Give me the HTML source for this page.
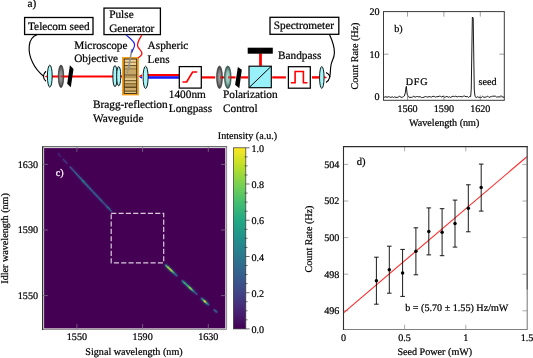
<!DOCTYPE html>
<html lang="en"><head><meta charset="utf-8"><title>Figure</title>
<style>html,body{margin:0;padding:0;background:#fff}svg{display:block}</style></head>
<body>
<svg width="533" height="358" viewBox="0 0 533 358" text-rendering="geometricPrecision" font-family='"Liberation Serif", "DejaVu Serif", serif'>
<defs>
<linearGradient id="vir" x1="0" y1="0" x2="0" y2="1"><stop offset="0.0" stop-color="#fde725"/><stop offset="0.1" stop-color="#bddf26"/><stop offset="0.2" stop-color="#7ad151"/><stop offset="0.3" stop-color="#44bf70"/><stop offset="0.4" stop-color="#22a884"/><stop offset="0.5" stop-color="#21918c"/><stop offset="0.6" stop-color="#2a788e"/><stop offset="0.7" stop-color="#355f8d"/><stop offset="0.8" stop-color="#414487"/><stop offset="0.9" stop-color="#482475"/><stop offset="1.0" stop-color="#440154"/></linearGradient>
<filter id="blr" x="-5%" y="-5%" width="110%" height="110%"><feGaussianBlur stdDeviation="0.5"/></filter>
<radialGradient id="gl" cx="0.5" cy="0.5" r="0.5"><stop offset="0" stop-color="#a0a0a0"/><stop offset="0.5" stop-color="#848484"/><stop offset="1" stop-color="#3c3c3c"/></radialGradient>
<radialGradient id="tl" cx="0.5" cy="0.5" r="0.5"><stop offset="0" stop-color="#aee0d2"/><stop offset="0.5" stop-color="#90c0b4"/><stop offset="1" stop-color="#30504a"/></radialGradient>
<filter id="blh" x="-5%" y="-5%" width="110%" height="110%"><feGaussianBlur stdDeviation="0.8"/></filter>
<filter id="blw" x="-5%" y="-5%" width="110%" height="110%"><feGaussianBlur stdDeviation="0 0.35"/></filter>
</defs>
<rect width="533" height="358" fill="#fff"/>
<g opacity="0.999">
<text x="27.6" y="7.2" font-size="11.3" text-anchor="start" fill="#000" stroke="#000" stroke-width="0.22" >a)</text>
<g fill="#fff" stroke="#000" stroke-width="1.3">
<rect x="24.6" y="17.5" width="68.4" height="17"/>
<rect x="104" y="8.1" width="56.4" height="26.5"/>
<rect x="270" y="17.3" width="68.8" height="17"/>
</g>
<text x="28.0" y="29.5" font-size="11.3" text-anchor="start" fill="#000" stroke="#000" stroke-width="0.22" >Telecom seed</text>
<text x="109.2" y="17.8" font-size="11.3" text-anchor="start" fill="#000" stroke="#000" stroke-width="0.22" >Pulse</text>
<text x="109.2" y="32.0" font-size="11.3" text-anchor="start" fill="#000" stroke="#000" stroke-width="0.22" >Generator</text>
<text x="273.8" y="29.0" font-size="11.3" text-anchor="start" fill="#000" stroke="#000" stroke-width="0.22" >Spectrometer</text>
<text x="74.2" y="48.6" font-size="11.3" text-anchor="start" fill="#000" stroke="#000" stroke-width="0.22" >Microscope</text>
<text x="74.2" y="62.1" font-size="11.3" text-anchor="start" fill="#000" stroke="#000" stroke-width="0.22" >Objective</text>
<text x="147.6" y="49.3" font-size="11.3" text-anchor="start" fill="#000" stroke="#000" stroke-width="0.22" >Aspheric</text>
<text x="147.6" y="63.2" font-size="11.3" text-anchor="start" fill="#000" stroke="#000" stroke-width="0.22" >Lens</text>
<text x="93.0" y="107.6" font-size="11.3" text-anchor="start" fill="#000" stroke="#000" stroke-width="0.22" >Bragg-reflection</text>
<text x="93.0" y="121.8" font-size="11.3" text-anchor="start" fill="#000" stroke="#000" stroke-width="0.22" >Waveguide</text>
<text x="168.8" y="97.6" font-size="11.3" text-anchor="start" fill="#000" stroke="#000" stroke-width="0.22" >1400nm</text>
<text x="168.8" y="111.6" font-size="11.3" text-anchor="start" fill="#000" stroke="#000" stroke-width="0.22" >Longpass</text>
<text x="223.0" y="97.6" font-size="11.3" text-anchor="start" fill="#000" stroke="#000" stroke-width="0.22" >Polarization</text>
<text x="223.0" y="111.6" font-size="11.3" text-anchor="start" fill="#000" stroke="#000" stroke-width="0.22" >Control</text>
<text x="278.0" y="59.3" font-size="11.3" text-anchor="start" fill="#000" stroke="#000" stroke-width="0.22" >Bandpass</text>
<g fill="none" stroke="#000" stroke-width="1.15">
<path d="M37 34.8 C27.4 38 27.4 52 32.6 62.6 C35 67.6 38.6 72.4 43.6 76.2"/>
<path d="M46 71.2 C42.6 74.2 42.6 78.4 46 81.2"/>
<path d="M329.6 34.8 C332 40 334.6 47 334.4 53 C334.2 59 331.8 60 331 65 C330.2 70 330.6 74 329.6 77.2"/>
<path d="M326 72.6 C329.4 74.6 330.4 76.4 329.6 77.6 C329 79.8 328 81.4 326 82.6"/>
</g>
<polygon points="44.6,76.4 47.0,75.4 122.4,75.4 122.4,77.4 47.0,77.4" fill="#ff0000"/>
<polygon points="138.2,76.4 142.0,76.4 142.0,78.7" fill="#1414ff"/>
<polygon points="138.2,76.4 142.0,74.2 142.0,76.4" fill="#ff0000"/>
<rect x="147.4" y="74.0" width="31.6" height="2.3" fill="#ff0000"/>
<rect x="147.4" y="76.25" width="31.6" height="2.5" fill="#1414ff"/>
<rect x="201.8" y="76.30000000000001" width="13.399999999999977" height="2.2" fill="#ff0000"/>
<rect x="220.0" y="76.30000000000001" width="4.199999999999989" height="2.2" fill="#ff0000"/>
<rect x="228.0" y="76.30000000000001" width="7.599999999999994" height="2.2" fill="#ff0000"/>
<rect x="241.0" y="76.30000000000001" width="7.199999999999989" height="2.2" fill="#ff0000"/>
<rect x="272.2" y="76.30000000000001" width="13.699999999999989" height="2.2" fill="#ff0000"/>
<rect x="312.0" y="76.2" width="7.600000000000023" height="2.4" fill="#ff0000"/>
<polygon points="324.2,76.2 326.6,76.9 326.6,77.9 324.2,78.60000000000001" fill="#ff0000"/>
<rect x="259.1" y="53.4" width="2.8" height="12.4" fill="#ff0000"/>
<ellipse cx="49.8" cy="76.15" rx="2.4" ry="11.050000000000004" fill="#a6f6f8" stroke="#000" stroke-width="0.9" fill-opacity="1"/>
<ellipse cx="61.0" cy="76.3" rx="2.75" ry="11.299999999999997" fill="url(#gl)" stroke="#333" stroke-width="0.7" fill-opacity="1"/>
<rect x="60.6" y="75.4" width="3.2" height="2.0" fill="#c01818" fill-opacity="0.75"/>
<polygon points="69.9,65.3 73.5,68.9 70.8,87.3 67.2,83.7" fill="#000"/>
<rect x="112.9" y="65.6" width="4.2" height="21.1" rx="2.1" ry="9" fill="#a6f6f8" stroke="#000" stroke-width="0.9"/>
<rect x="116.7" y="66.6" width="4.0" height="19.2" rx="2.0" ry="8.2" fill="#a6f6f8" stroke="#000" stroke-width="0.9"/>
<rect x="122.9" y="57.9" width="15.1" height="36.6" fill="#c9a868" stroke="#f5a11f" stroke-width="1.8"/>
<g filter="url(#blw)">
<rect x="124.4" y="59.4" width="12.2" height="2.4" fill="#f0d69a"/>
<rect x="124.4" y="61.8" width="12.2" height="0.9" fill="#7a6030"/>
<rect x="124.4" y="62.7" width="12.2" height="2.4" fill="#ecd092"/>
<rect x="124.4" y="65.1" width="12.2" height="1.1" fill="#5e4a22"/>
<rect x="124.4" y="66.2" width="12.2" height="2.4" fill="#d2b272"/>
<rect x="124.4" y="68.6" width="12.2" height="0.9" fill="#6a5426"/>
<rect x="124.4" y="69.5" width="12.2" height="5.1" fill="#c8a866"/>
<rect x="124.4" y="74.6" width="12.2" height="1.0" fill="#4e3c18"/>
<rect x="124.4" y="75.6" width="12.2" height="2.6" fill="#b8985a"/>
<rect x="124.4" y="78.2" width="12.2" height="2.0" fill="#e6ca8c"/>
<rect x="124.4" y="80.2" width="12.2" height="1.2" fill="#66501f"/>
<rect x="124.4" y="81.4" width="12.2" height="1.9" fill="#dcc07e"/>
<rect x="124.4" y="83.3" width="12.2" height="1.2" fill="#6e5622"/>
<rect x="124.4" y="84.5" width="12.2" height="2.0" fill="#bc9c5c"/>
<rect x="124.4" y="86.5" width="12.2" height="1.5" fill="#66501f"/>
<rect x="124.4" y="88.0" width="12.2" height="2.6" fill="#ccac6a"/>
<rect x="124.4" y="90.6" width="12.2" height="1.2" fill="#66501f"/>
<rect x="124.4" y="91.8" width="12.2" height="1.6" fill="#e2c688"/>
</g>
<rect x="124.2" y="59.0" width="12.5" height="34.5" fill="none" stroke="#2e220e" stroke-width="0.85"/>
<polygon points="131.1,49 132.7,49.2 129.7,66.6 127.3,75.4 126.8,75.1 128.1,66.4" fill="#929292"/>
<path d="M126.2 34.8 C129 38 134.8 41 134.6 45 C134.4 48.6 132.2 49.6 131.7 52.6" stroke="#2222f0" stroke-width="1.2" fill="none"/>
<path d="M141.9 34.8 C140 38.6 137 42 137.6 45.8 C138.2 49.4 142.6 50.4 141.9 54 C141.5 55.8 139.6 56.8 138.1 57.8" stroke="#ff0000" stroke-width="1.2" fill="none"/>
<ellipse cx="145.6" cy="77.35" rx="2.5" ry="11.149999999999999" fill="#a6f6f8" stroke="#000" stroke-width="0.9" fill-opacity="1"/>
<rect x="179.3" y="66.6" width="22" height="21.5" fill="#fff" stroke="#000" stroke-width="1.25"/>
<path d="M183.0 82.0 H186.6 L192.6 72.0 H196.6" stroke="#ff0000" stroke-width="1.6" stroke-linecap="round" stroke-linejoin="round" fill="none"/>
<ellipse cx="219.5" cy="77.3" rx="2.9" ry="11.299999999999997" fill="url(#gl)" stroke="#333" stroke-width="0.7" fill-opacity="1"/>
<ellipse cx="227.8" cy="77.3" rx="3.3" ry="11.299999999999997" fill="url(#tl)" stroke="#2c4642" stroke-width="0.7" fill-opacity="1"/>
<rect x="220.0" y="76.30000000000001" width="2.4" height="2.2" fill="#c01818" fill-opacity="0.8"/>
<rect x="228.0" y="76.30000000000001" width="3.0" height="2.2" fill="#d82020" fill-opacity="0.8"/>
<polygon points="237.9,66.9 241.8,69.7 239.3,88.2 235.1,84.8" fill="#000"/>
<rect x="247.7" y="47.7" width="25.1" height="6" fill="#000"/>
<rect x="249.0" y="66.2" width="22.3" height="21.5" fill="#98f0f8" stroke="#000" stroke-width="1.15"/>
<path d="M249.2 87.5 L271.1 66.4" stroke="#000" stroke-width="1" fill="none"/>
<rect x="288.4" y="66.7" width="21.9" height="21.5" fill="#fff" stroke="#000" stroke-width="1.25"/>
<path d="M290.8 82.7 H295.1 V71.5 H303.4 V82.7 H307.4" stroke="#ff0000" stroke-width="1.6" stroke-linejoin="miter" fill="none"/>
<ellipse cx="321.8" cy="77.45" rx="2.25" ry="10.950000000000003" fill="#a6f6f8" stroke="#000" stroke-width="0.9" fill-opacity="1"/>
<path d="M383.23 97.03 L384.51 97.31 L385.78 96.50 L387.06 97.44 L388.33 96.68 L389.60 96.96 L390.88 97.46 L392.15 96.73 L393.43 97.50 L394.70 96.85 L395.97 97.44 L397.25 97.41 L398.52 96.87 L399.80 96.21 L401.07 97.36 L402.34 97.19 L403.62 96.54 L404.35 96.02 L405.32 92.77 L406.04 87.28 L406.35 86.34 L407.14 94.06 L407.99 96.16 L408.71 97.09 L409.99 97.32 L411.26 97.36 L412.54 97.05 L413.81 96.23 L415.08 97.26 L416.36 96.61 L417.63 96.52 L418.91 96.95 L420.18 96.67 L421.45 97.45 L422.73 97.46 L424.00 97.22 L425.27 96.45 L426.55 96.86 L427.82 97.05 L429.10 96.60 L430.37 96.82 L431.64 97.07 L432.92 96.26 L434.19 96.42 L435.47 97.16 L436.74 96.62 L438.01 96.70 L439.29 96.13 L440.56 96.37 L441.84 97.09 L443.11 95.96 L444.38 97.36 L445.66 96.88 L446.93 96.32 L448.21 97.31 L449.48 96.76 L450.75 97.49 L452.03 96.47 L453.30 96.31 L454.58 96.62 L455.85 96.13 L457.12 97.05 L458.40 96.43 L459.67 96.59 L460.95 96.61 L462.22 96.81 L463.49 96.19 L464.77 96.02 L466.04 96.79 L467.32 96.48 L468.59 97.46 L469.86 96.42 L470.65 96.50 L471.26 89.09 L472.35 17.04 L473.18 17.91 L474.29 90.08 L475.02 96.47 L476.23 97.52 L477.51 96.81 L478.78 97.28 L480.06 97.37 L481.33 97.46 L482.60 96.31 L483.88 97.35 L485.15 97.15 L486.43 96.92 L487.70 96.14 L488.97 97.43 L490.25 96.83 L491.52 96.66 L492.79 96.12 L494.07 96.22 L495.34 96.15 L496.62 97.10 L497.89 96.88 L499.16 96.97 L500.44 96.12 L501.71 96.00 L502.99 97.31 L504.26 97.27" fill="none" stroke="#000" stroke-width="0.9" stroke-linejoin="round"/>
<g stroke="#777" stroke-width="0.7">
<path d="M407.5 11.6 v5 M407.5 100.3 v-5"/>
<path d="M443.9 11.6 v5 M443.9 100.3 v-5"/>
<path d="M480.3 11.6 v5 M480.3 100.3 v-5"/>
<path d="M383.5 97.0 h5 M504.3 97.0 h-5"/>
<path d="M383.5 54.2 h5 M504.3 54.2 h-5"/>
</g>
<rect x="383.5" y="11.6" width="120.80000000000001" height="88.7" fill="none" stroke="#3a3a3a" stroke-width="1"/>
<text x="407.5" y="111.6" font-size="10.15" text-anchor="middle" fill="#000" stroke="#000" stroke-width="0.22" >1560</text>
<text x="443.9" y="111.6" font-size="10.15" text-anchor="middle" fill="#000" stroke="#000" stroke-width="0.22" >1590</text>
<text x="480.3" y="111.6" font-size="10.15" text-anchor="middle" fill="#000" stroke="#000" stroke-width="0.22" >1620</text>
<text x="379.6" y="100.4" font-size="10.15" text-anchor="end" fill="#000" stroke="#000" stroke-width="0.22" >0</text>
<text x="379.6" y="57.6" font-size="10.15" text-anchor="end" fill="#000" stroke="#000" stroke-width="0.22" >10</text>
<text x="379.6" y="14.8" font-size="10.15" text-anchor="end" fill="#000" stroke="#000" stroke-width="0.22" >20</text>
<text x="444.2" y="126.0" font-size="10.15" text-anchor="middle" fill="#000" stroke="#000" stroke-width="0.22" >Wavelength (nm)</text>
<text transform="translate(358.0,56) rotate(-90)" font-size="10.15" text-anchor="middle" fill="#000" stroke="#000" stroke-width="0.22">Count Rate (Hz)</text>
<text x="394.2" y="32.2" font-size="10.15" text-anchor="start" fill="#000" stroke="#000" stroke-width="0.22" >b)</text>
<text x="405.8" y="84.7" font-size="10.15" text-anchor="start" fill="#000" stroke="#000" stroke-width="0.22" letter-spacing="0.75">DFG</text>
<text x="478.6" y="84.6" font-size="10.15" text-anchor="start" fill="#000" stroke="#000" stroke-width="0.22" >seed</text>
<rect x="44.1" y="148.1" width="181.2" height="180.3" fill="#440154"/>
<g stroke-linecap="butt" fill="none" filter="url(#blh)">
<path d="M57.18 152.42 L57.78 153.09" stroke="#450a5c" stroke-width="2.61" stroke-opacity="0.30"/>
<path d="M57.68 152.98 L58.27 153.64" stroke="#47186a" stroke-width="2.63" stroke-opacity="0.38"/>
<path d="M58.17 153.53 L58.76 154.20" stroke="#47196a" stroke-width="2.63" stroke-opacity="0.39"/>
<path d="M58.66 154.09 L59.25 154.76" stroke="#471a6c" stroke-width="2.63" stroke-opacity="0.39"/>
<path d="M59.16 154.65 L59.75 155.31" stroke="#471a6c" stroke-width="2.63" stroke-opacity="0.39"/>
<path d="M59.65 155.20 L60.24 155.87" stroke="#471769" stroke-width="2.63" stroke-opacity="0.38"/>
<path d="M60.14 155.76 L60.73 156.42" stroke="#461668" stroke-width="2.62" stroke-opacity="0.37"/>
<path d="M60.63 156.31 L61.23 156.98" stroke="#461768" stroke-width="2.62" stroke-opacity="0.37"/>
<path d="M62.61 158.53 L63.20 159.19" stroke="#461566" stroke-width="2.62" stroke-opacity="0.36"/>
<path d="M63.10 159.08 L63.69 159.74" stroke="#471f70" stroke-width="2.63" stroke-opacity="0.42"/>
<path d="M63.59 159.63 L64.18 160.29" stroke="#482676" stroke-width="2.64" stroke-opacity="0.46"/>
<path d="M64.08 160.18 L64.68 160.84" stroke="#482273" stroke-width="2.64" stroke-opacity="0.44"/>
<path d="M64.58 160.73 L65.17 161.39" stroke="#482575" stroke-width="2.64" stroke-opacity="0.46"/>
<path d="M65.07 161.28 L65.66 161.94" stroke="#482273" stroke-width="2.64" stroke-opacity="0.44"/>
<path d="M65.56 161.83 L66.15 162.49" stroke="#482374" stroke-width="2.64" stroke-opacity="0.45"/>
<path d="M66.06 162.38 L66.65 163.04" stroke="#471f71" stroke-width="2.63" stroke-opacity="0.42"/>
<path d="M66.55 162.93 L67.14 163.59" stroke="#482273" stroke-width="2.64" stroke-opacity="0.44"/>
<path d="M67.04 163.48 L67.63 164.14" stroke="#471869" stroke-width="2.63" stroke-opacity="0.38"/>
<path d="M69.51 166.22 L70.10 166.87" stroke="#471f70" stroke-width="2.63" stroke-opacity="0.42"/>
<path d="M70.00 166.77 L70.59 167.42" stroke="#45317c" stroke-width="2.66" stroke-opacity="0.53"/>
<path d="M70.49 167.31 L71.08 167.97" stroke="#45327d" stroke-width="2.66" stroke-opacity="0.54"/>
<path d="M70.99 167.86 L71.58 168.51" stroke="#462c79" stroke-width="2.65" stroke-opacity="0.50"/>
<path d="M71.48 168.40 L72.07 169.06" stroke="#45347e" stroke-width="2.66" stroke-opacity="0.55"/>
<path d="M71.97 168.95 L72.56 169.60" stroke="#45327d" stroke-width="2.66" stroke-opacity="0.54"/>
<path d="M72.46 169.49 L73.06 170.14" stroke="#462f7b" stroke-width="2.65" stroke-opacity="0.52"/>
<path d="M72.96 170.03 L73.55 170.69" stroke="#462d7a" stroke-width="2.65" stroke-opacity="0.50"/>
<path d="M73.45 170.58 L74.04 171.23" stroke="#44367f" stroke-width="2.66" stroke-opacity="0.56"/>
<path d="M73.94 171.12 L74.53 171.77" stroke="#45327d" stroke-width="2.66" stroke-opacity="0.54"/>
<path d="M74.44 171.66 L75.03 172.31" stroke="#44367f" stroke-width="2.66" stroke-opacity="0.56"/>
<path d="M74.93 172.20 L75.52 172.85" stroke="#443880" stroke-width="2.67" stroke-opacity="0.58"/>
<path d="M75.42 172.75 L76.01 173.40" stroke="#443780" stroke-width="2.66" stroke-opacity="0.57"/>
<path d="M75.91 173.29 L76.51 173.94" stroke="#433a81" stroke-width="2.67" stroke-opacity="0.59"/>
<path d="M76.41 173.83 L77.00 174.48" stroke="#44357e" stroke-width="2.66" stroke-opacity="0.55"/>
<path d="M76.90 174.37 L77.49 175.02" stroke="#433a82" stroke-width="2.67" stroke-opacity="0.59"/>
<path d="M77.39 174.91 L77.98 175.56" stroke="#443780" stroke-width="2.66" stroke-opacity="0.57"/>
<path d="M77.89 175.45 L78.48 176.09" stroke="#423e84" stroke-width="2.67" stroke-opacity="0.61"/>
<path d="M78.38 175.99 L78.97 176.63" stroke="#423e84" stroke-width="2.67" stroke-opacity="0.61"/>
<path d="M78.87 176.53 L79.46 177.17" stroke="#44357e" stroke-width="2.66" stroke-opacity="0.55"/>
<path d="M79.36 177.06 L79.96 177.71" stroke="#44367f" stroke-width="2.66" stroke-opacity="0.56"/>
<path d="M79.86 177.60 L80.45 178.25" stroke="#443880" stroke-width="2.66" stroke-opacity="0.57"/>
<path d="M80.35 178.14 L80.94 178.78" stroke="#414386" stroke-width="2.68" stroke-opacity="0.64"/>
<path d="M80.84 178.68 L81.43 179.32" stroke="#433c83" stroke-width="2.67" stroke-opacity="0.60"/>
<path d="M81.34 179.21 L81.93 179.85" stroke="#423f84" stroke-width="2.67" stroke-opacity="0.62"/>
<path d="M81.83 179.75 L82.42 180.39" stroke="#423d83" stroke-width="2.67" stroke-opacity="0.61"/>
<path d="M82.32 180.28 L82.91 180.93" stroke="#3f4988" stroke-width="2.69" stroke-opacity="0.69"/>
<path d="M82.81 180.82 L83.41 181.46" stroke="#39568b" stroke-width="2.71" stroke-opacity="0.75"/>
<path d="M83.31 181.35 L83.90 181.99" stroke="#39558b" stroke-width="2.71" stroke-opacity="0.75"/>
<path d="M83.80 181.89 L84.39 182.53" stroke="#3e4b89" stroke-width="2.69" stroke-opacity="0.70"/>
<path d="M84.29 182.42 L84.88 183.06" stroke="#414386" stroke-width="2.68" stroke-opacity="0.64"/>
<path d="M84.79 182.95 L85.38 183.59" stroke="#414587" stroke-width="2.68" stroke-opacity="0.66"/>
<path d="M85.28 183.49 L85.87 184.13" stroke="#424286" stroke-width="2.68" stroke-opacity="0.64"/>
<path d="M85.77 184.02 L86.36 184.66" stroke="#414587" stroke-width="2.68" stroke-opacity="0.66"/>
<path d="M86.27 184.55 L86.86 185.19" stroke="#414387" stroke-width="2.68" stroke-opacity="0.65"/>
<path d="M86.76 185.08 L87.35 185.72" stroke="#414587" stroke-width="2.68" stroke-opacity="0.66"/>
<path d="M87.25 185.62 L87.84 186.25" stroke="#424085" stroke-width="2.67" stroke-opacity="0.62"/>
<path d="M87.74 186.15 L88.34 186.78" stroke="#443881" stroke-width="2.67" stroke-opacity="0.58"/>
<path d="M88.24 186.68 L88.83 187.31" stroke="#424186" stroke-width="2.68" stroke-opacity="0.63"/>
<path d="M88.73 187.21 L89.32 187.84" stroke="#414286" stroke-width="2.68" stroke-opacity="0.64"/>
<path d="M89.22 187.74 L89.81 188.37" stroke="#424185" stroke-width="2.68" stroke-opacity="0.63"/>
<path d="M89.72 188.27 L90.31 188.90" stroke="#433c83" stroke-width="2.67" stroke-opacity="0.60"/>
<path d="M90.21 188.80 L90.80 189.43" stroke="#423d83" stroke-width="2.67" stroke-opacity="0.61"/>
<path d="M90.70 189.32 L91.29 189.96" stroke="#44377f" stroke-width="2.66" stroke-opacity="0.57"/>
<path d="M91.19 189.85 L91.79 190.49" stroke="#423e84" stroke-width="2.67" stroke-opacity="0.61"/>
<path d="M91.69 190.38 L92.28 191.01" stroke="#433b82" stroke-width="2.67" stroke-opacity="0.59"/>
<path d="M92.18 190.91 L92.77 191.54" stroke="#443780" stroke-width="2.66" stroke-opacity="0.57"/>
<path d="M92.67 191.43 L93.26 192.07" stroke="#45347e" stroke-width="2.66" stroke-opacity="0.55"/>
<path d="M93.17 191.96 L93.76 192.59" stroke="#423e84" stroke-width="2.67" stroke-opacity="0.61"/>
<path d="M93.66 192.49 L94.25 193.12" stroke="#424085" stroke-width="2.67" stroke-opacity="0.62"/>
<path d="M94.15 193.01 L94.74 193.64" stroke="#44347e" stroke-width="2.66" stroke-opacity="0.55"/>
<path d="M94.64 193.54 L95.24 194.17" stroke="#423d83" stroke-width="2.67" stroke-opacity="0.61"/>
<path d="M95.14 194.06 L95.73 194.69" stroke="#443981" stroke-width="2.67" stroke-opacity="0.58"/>
<path d="M95.63 194.59 L96.22 195.21" stroke="#44357f" stroke-width="2.66" stroke-opacity="0.56"/>
<path d="M96.12 195.11 L96.71 195.74" stroke="#443780" stroke-width="2.66" stroke-opacity="0.57"/>
<path d="M96.62 195.63 L97.21 196.26" stroke="#423d83" stroke-width="2.67" stroke-opacity="0.61"/>
<path d="M97.11 196.16 L97.70 196.78" stroke="#423f84" stroke-width="2.67" stroke-opacity="0.62"/>
<path d="M97.60 196.68 L98.19 197.31" stroke="#45347e" stroke-width="2.66" stroke-opacity="0.55"/>
<path d="M98.09 197.20 L98.69 197.83" stroke="#433b82" stroke-width="2.67" stroke-opacity="0.59"/>
<path d="M98.59 197.72 L99.18 198.35" stroke="#45347e" stroke-width="2.66" stroke-opacity="0.55"/>
<path d="M99.08 198.24 L99.67 198.87" stroke="#433c82" stroke-width="2.67" stroke-opacity="0.60"/>
<path d="M99.57 198.77 L100.16 199.39" stroke="#44377f" stroke-width="2.66" stroke-opacity="0.57"/>
<path d="M100.07 199.29 L100.66 199.91" stroke="#433d83" stroke-width="2.67" stroke-opacity="0.61"/>
<path d="M100.56 199.81 L101.15 200.43" stroke="#423e83" stroke-width="2.67" stroke-opacity="0.61"/>
<path d="M101.05 200.33 L101.64 200.95" stroke="#443780" stroke-width="2.66" stroke-opacity="0.57"/>
<path d="M101.54 200.85 L102.14 201.47" stroke="#433d83" stroke-width="2.67" stroke-opacity="0.60"/>
<path d="M102.04 201.37 L102.63 201.99" stroke="#45347e" stroke-width="2.66" stroke-opacity="0.55"/>
<path d="M102.53 201.88 L103.12 202.51" stroke="#45307c" stroke-width="2.66" stroke-opacity="0.53"/>
<path d="M103.02 202.40 L103.62 203.02" stroke="#44367f" stroke-width="2.66" stroke-opacity="0.56"/>
<path d="M103.52 202.92 L104.11 203.54" stroke="#462f7b" stroke-width="2.65" stroke-opacity="0.52"/>
<path d="M104.01 203.44 L104.60 204.06" stroke="#45307c" stroke-width="2.65" stroke-opacity="0.52"/>
<path d="M104.50 203.95 L105.09 204.57" stroke="#45327d" stroke-width="2.66" stroke-opacity="0.54"/>
<path d="M105.00 204.47 L105.59 205.09" stroke="#45347e" stroke-width="2.66" stroke-opacity="0.55"/>
<path d="M105.49 204.99 L106.08 205.61" stroke="#462f7b" stroke-width="2.65" stroke-opacity="0.52"/>
<path d="M105.98 205.50 L106.57 206.12" stroke="#462f7b" stroke-width="2.65" stroke-opacity="0.52"/>
<path d="M106.47 206.02 L107.07 206.64" stroke="#433c82" stroke-width="2.67" stroke-opacity="0.60"/>
<path d="M106.97 206.53 L107.56 207.15" stroke="#433a81" stroke-width="2.67" stroke-opacity="0.59"/>
<path d="M107.46 207.05 L108.05 207.67" stroke="#3f4888" stroke-width="2.69" stroke-opacity="0.68"/>
<path d="M107.95 207.56 L108.54 208.18" stroke="#3f4888" stroke-width="2.69" stroke-opacity="0.68"/>
<path d="M108.45 208.08 L109.04 208.69" stroke="#423e84" stroke-width="2.67" stroke-opacity="0.61"/>
<path d="M108.94 208.59 L109.53 209.21" stroke="#433981" stroke-width="2.67" stroke-opacity="0.58"/>
<path d="M109.43 209.10 L110.02 209.72" stroke="#44357e" stroke-width="2.66" stroke-opacity="0.55"/>
<path d="M109.92 209.62 L110.52 210.23" stroke="#45337d" stroke-width="2.66" stroke-opacity="0.54"/>
<path d="M110.42 210.13 L111.01 210.74" stroke="#45317c" stroke-width="2.66" stroke-opacity="0.53"/>
<path d="M110.91 210.64 L111.50 211.25" stroke="#45307c" stroke-width="2.66" stroke-opacity="0.53"/>
<path d="M111.40 211.15 L111.99 211.76" stroke="#45317c" stroke-width="2.66" stroke-opacity="0.53"/>
<path d="M164.64 264.16 L165.23 264.73" stroke="#461365" stroke-width="2.62" stroke-opacity="0.35"/>
<path d="M165.13 264.63 L165.72 265.20" stroke="#414386" stroke-width="2.68" stroke-opacity="0.64"/>
<path d="M165.62 265.10 L166.21 265.67" stroke="#365e8d" stroke-width="2.72" stroke-opacity="0.75"/>
<path d="M166.11 265.57 L166.71 266.14" stroke="#2d718e" stroke-width="2.75" stroke-opacity="0.75"/>
<path d="M166.61 266.04 L167.20 266.61" stroke="#2f6c8e" stroke-width="2.74" stroke-opacity="0.75"/>
<path d="M167.10 266.51 L167.69 267.08" stroke="#2e708e" stroke-width="2.75" stroke-opacity="0.75"/>
<path d="M167.59 266.98 L168.19 267.55" stroke="#26828d" stroke-width="2.78" stroke-opacity="0.75"/>
<path d="M168.09 267.45 L168.68 268.01" stroke="#297c8e" stroke-width="2.77" stroke-opacity="0.75"/>
<path d="M168.58 267.92 L169.17 268.48" stroke="#26838d" stroke-width="2.78" stroke-opacity="0.75"/>
<path d="M169.07 268.39 L169.66 268.95" stroke="#297a8e" stroke-width="2.76" stroke-opacity="0.75"/>
<path d="M169.57 268.86 L170.16 269.42" stroke="#24898d" stroke-width="2.79" stroke-opacity="0.75"/>
<path d="M170.06 269.32 L170.65 269.89" stroke="#228e8c" stroke-width="2.79" stroke-opacity="0.75"/>
<path d="M170.55 269.79 L171.14 270.35" stroke="#297a8e" stroke-width="2.76" stroke-opacity="0.75"/>
<path d="M171.04 270.26 L171.64 270.82" stroke="#26848d" stroke-width="2.78" stroke-opacity="0.75"/>
<path d="M171.54 270.73 L172.13 271.28" stroke="#287e8d" stroke-width="2.77" stroke-opacity="0.75"/>
<path d="M172.03 271.19 L172.62 271.75" stroke="#2f6c8e" stroke-width="2.74" stroke-opacity="0.75"/>
<path d="M172.52 271.66 L173.11 272.22" stroke="#2b758e" stroke-width="2.76" stroke-opacity="0.75"/>
<path d="M173.02 272.12 L173.61 272.68" stroke="#30698d" stroke-width="2.74" stroke-opacity="0.75"/>
<path d="M173.51 272.59 L174.10 273.15" stroke="#355e8d" stroke-width="2.72" stroke-opacity="0.75"/>
<path d="M174.00 273.05 L174.59 273.61" stroke="#3e4b89" stroke-width="2.69" stroke-opacity="0.70"/>
<path d="M174.49 273.52 L175.09 274.07" stroke="#3e4b89" stroke-width="2.69" stroke-opacity="0.70"/>
<path d="M174.99 273.98 L175.58 274.54" stroke="#3e4a88" stroke-width="2.69" stroke-opacity="0.70"/>
<path d="M175.48 274.45 L176.07 275.00" stroke="#424085" stroke-width="2.67" stroke-opacity="0.62"/>
<path d="M175.97 274.91 L176.56 275.46" stroke="#424085" stroke-width="2.67" stroke-opacity="0.62"/>
<path d="M176.47 275.37 L177.06 275.93" stroke="#414387" stroke-width="2.68" stroke-opacity="0.64"/>
<path d="M176.96 275.83 L177.55 276.39" stroke="#482172" stroke-width="2.64" stroke-opacity="0.43"/>
<path d="M181.39 279.98 L181.99 280.54" stroke="#461668" stroke-width="2.62" stroke-opacity="0.37"/>
<path d="M181.89 280.44 L182.48 280.99" stroke="#433b82" stroke-width="2.67" stroke-opacity="0.59"/>
<path d="M182.38 280.90 L182.97 281.45" stroke="#3c4f89" stroke-width="2.70" stroke-opacity="0.73"/>
<path d="M182.87 281.36 L183.46 281.91" stroke="#39568b" stroke-width="2.71" stroke-opacity="0.75"/>
<path d="M183.37 281.82 L183.96 282.37" stroke="#355f8d" stroke-width="2.72" stroke-opacity="0.75"/>
<path d="M183.86 282.28 L184.45 282.83" stroke="#33638d" stroke-width="2.73" stroke-opacity="0.75"/>
<path d="M184.35 282.74 L184.94 283.28" stroke="#32668d" stroke-width="2.73" stroke-opacity="0.75"/>
<path d="M184.85 283.19 L185.44 283.74" stroke="#306a8d" stroke-width="2.74" stroke-opacity="0.75"/>
<path d="M185.34 283.65 L185.93 284.20" stroke="#34628d" stroke-width="2.72" stroke-opacity="0.75"/>
<path d="M185.83 284.11 L186.42 284.65" stroke="#34618d" stroke-width="2.72" stroke-opacity="0.75"/>
<path d="M186.32 284.56 L186.92 285.11" stroke="#31678d" stroke-width="2.73" stroke-opacity="0.75"/>
<path d="M186.82 285.02 L187.41 285.57" stroke="#375a8c" stroke-width="2.71" stroke-opacity="0.75"/>
<path d="M187.31 285.48 L187.90 286.02" stroke="#31678d" stroke-width="2.73" stroke-opacity="0.75"/>
<path d="M187.80 285.93 L188.39 286.48" stroke="#2e708e" stroke-width="2.75" stroke-opacity="0.75"/>
<path d="M188.30 286.39 L188.89 286.93" stroke="#2f6d8e" stroke-width="2.74" stroke-opacity="0.75"/>
<path d="M188.79 286.84 L189.38 287.39" stroke="#2d718e" stroke-width="2.75" stroke-opacity="0.75"/>
<path d="M189.28 287.29 L189.87 287.84" stroke="#25868d" stroke-width="2.78" stroke-opacity="0.75"/>
<path d="M189.77 287.75 L190.37 288.29" stroke="#297b8e" stroke-width="2.76" stroke-opacity="0.75"/>
<path d="M190.27 288.20 L190.86 288.75" stroke="#2a798e" stroke-width="2.76" stroke-opacity="0.75"/>
<path d="M190.76 288.66 L191.35 289.20" stroke="#287c8e" stroke-width="2.77" stroke-opacity="0.75"/>
<path d="M191.25 289.11 L191.84 289.65" stroke="#287d8e" stroke-width="2.77" stroke-opacity="0.75"/>
<path d="M191.75 289.56 L192.34 290.10" stroke="#31688d" stroke-width="2.73" stroke-opacity="0.75"/>
<path d="M192.24 290.01 L192.83 290.56" stroke="#32658d" stroke-width="2.73" stroke-opacity="0.75"/>
<path d="M192.73 290.47 L193.32 291.01" stroke="#375b8c" stroke-width="2.71" stroke-opacity="0.75"/>
<path d="M193.22 290.92 L193.82 291.46" stroke="#39568b" stroke-width="2.71" stroke-opacity="0.75"/>
<path d="M193.72 291.37 L194.31 291.91" stroke="#414286" stroke-width="2.68" stroke-opacity="0.64"/>
<path d="M194.21 291.82 L194.80 292.36" stroke="#423e84" stroke-width="2.67" stroke-opacity="0.61"/>
<path d="M194.70 292.27 L195.29 292.81" stroke="#45327d" stroke-width="2.66" stroke-opacity="0.54"/>
<path d="M195.20 292.72 L195.79 293.26" stroke="#45337d" stroke-width="2.66" stroke-opacity="0.54"/>
<path d="M195.69 293.17 L196.28 293.71" stroke="#44367f" stroke-width="2.66" stroke-opacity="0.56"/>
<path d="M196.18 293.62 L196.77 294.16" stroke="#443880" stroke-width="2.67" stroke-opacity="0.58"/>
<path d="M196.67 294.07 L197.27 294.61" stroke="#462f7b" stroke-width="2.65" stroke-opacity="0.52"/>
<path d="M197.17 294.52 L197.76 295.06" stroke="#461466" stroke-width="2.62" stroke-opacity="0.36"/>
<path d="M200.62 297.66 L201.21 298.19" stroke="#471b6d" stroke-width="2.63" stroke-opacity="0.40"/>
<path d="M201.11 298.10 L201.70 298.64" stroke="#414286" stroke-width="2.68" stroke-opacity="0.64"/>
<path d="M201.60 298.55 L202.20 299.08" stroke="#404687" stroke-width="2.68" stroke-opacity="0.66"/>
<path d="M202.10 298.99 L202.69 299.53" stroke="#375b8c" stroke-width="2.71" stroke-opacity="0.75"/>
<path d="M202.59 299.44 L203.18 299.97" stroke="#2f6c8e" stroke-width="2.74" stroke-opacity="0.75"/>
<path d="M203.08 299.89 L203.67 300.42" stroke="#31698d" stroke-width="2.74" stroke-opacity="0.75"/>
<path d="M203.58 300.33 L204.17 300.86" stroke="#2b758e" stroke-width="2.76" stroke-opacity="0.75"/>
<path d="M204.07 300.78 L204.66 301.31" stroke="#228f8c" stroke-width="2.80" stroke-opacity="0.75"/>
<path d="M204.56 301.22 L205.15 301.75" stroke="#21918c" stroke-width="2.80" stroke-opacity="0.75"/>
<path d="M205.05 301.66 L205.65 302.20" stroke="#21918c" stroke-width="2.80" stroke-opacity="0.75"/>
<path d="M205.55 302.11 L206.14 302.64" stroke="#297b8e" stroke-width="2.76" stroke-opacity="0.75"/>
<path d="M206.04 302.55 L206.63 303.08" stroke="#306b8d" stroke-width="2.74" stroke-opacity="0.75"/>
<path d="M206.53 302.99 L207.12 303.53" stroke="#33658d" stroke-width="2.73" stroke-opacity="0.75"/>
<path d="M207.03 303.44 L207.62 303.97" stroke="#34618d" stroke-width="2.72" stroke-opacity="0.75"/>
<path d="M207.52 303.88 L208.11 304.41" stroke="#3e4a88" stroke-width="2.69" stroke-opacity="0.69"/>
<path d="M208.01 304.32 L208.60 304.85" stroke="#414587" stroke-width="2.68" stroke-opacity="0.66"/>
<path d="M208.50 304.76 L209.10 305.29" stroke="#443880" stroke-width="2.67" stroke-opacity="0.58"/>
<path d="M209.00 305.20 L209.59 305.73" stroke="#461062" stroke-width="2.62" stroke-opacity="0.34"/>
<path d="M213.43 309.16 L214.02 309.69" stroke="#47186a" stroke-width="2.63" stroke-opacity="0.38"/>
<path d="M213.93 309.60 L214.52 310.13" stroke="#423f84" stroke-width="2.67" stroke-opacity="0.62"/>
<path d="M214.42 310.04 L215.01 310.57" stroke="#433981" stroke-width="2.67" stroke-opacity="0.58"/>
<path d="M214.91 310.48 L215.50 311.00" stroke="#443780" stroke-width="2.66" stroke-opacity="0.57"/>
<path d="M215.40 310.91 L216.00 311.44" stroke="#414487" stroke-width="2.68" stroke-opacity="0.65"/>
<path d="M215.90 311.35 L216.49 311.88" stroke="#414386" stroke-width="2.68" stroke-opacity="0.64"/>
<path d="M216.39 311.79 L216.98 312.31" stroke="#423f84" stroke-width="2.67" stroke-opacity="0.62"/>
<path d="M216.88 312.23 L217.48 312.75" stroke="#47186a" stroke-width="2.63" stroke-opacity="0.38"/>
</g>
<g stroke-linecap="butt" fill="none" filter="url(#blr)">
<path d="M57.18 152.42 L57.78 153.09" stroke="#461264" stroke-width="1.37" stroke-opacity="0.46"/>
<path d="M57.68 152.98 L58.27 153.64" stroke="#462e7b" stroke-width="1.41" stroke-opacity="0.64"/>
<path d="M58.17 153.53 L58.76 154.20" stroke="#462f7b" stroke-width="1.41" stroke-opacity="0.65"/>
<path d="M58.66 154.09 L59.25 154.76" stroke="#45327d" stroke-width="1.41" stroke-opacity="0.67"/>
<path d="M59.16 154.65 L59.75 155.31" stroke="#45327d" stroke-width="1.41" stroke-opacity="0.67"/>
<path d="M59.65 155.20 L60.24 155.87" stroke="#462c7a" stroke-width="1.41" stroke-opacity="0.63"/>
<path d="M60.14 155.76 L60.73 156.42" stroke="#462b79" stroke-width="1.41" stroke-opacity="0.62"/>
<path d="M60.63 156.31 L61.23 156.98" stroke="#462c79" stroke-width="1.41" stroke-opacity="0.62"/>
<path d="M62.61 158.53 L63.20 159.19" stroke="#472877" stroke-width="1.40" stroke-opacity="0.60"/>
<path d="M63.10 159.08 L63.69 159.74" stroke="#433b82" stroke-width="1.43" stroke-opacity="0.73"/>
<path d="M63.59 159.63 L64.18 160.29" stroke="#404788" stroke-width="1.45" stroke-opacity="0.82"/>
<path d="M64.08 160.18 L64.68 160.84" stroke="#424085" stroke-width="1.43" stroke-opacity="0.76"/>
<path d="M64.58 160.73 L65.17 161.39" stroke="#404587" stroke-width="1.44" stroke-opacity="0.80"/>
<path d="M65.07 161.28 L65.66 161.94" stroke="#424085" stroke-width="1.44" stroke-opacity="0.77"/>
<path d="M65.56 161.83 L66.15 162.49" stroke="#414386" stroke-width="1.44" stroke-opacity="0.78"/>
<path d="M66.06 162.38 L66.65 163.04" stroke="#433c82" stroke-width="1.43" stroke-opacity="0.73"/>
<path d="M66.55 162.93 L67.14 163.59" stroke="#424185" stroke-width="1.44" stroke-opacity="0.77"/>
<path d="M67.04 163.48 L67.63 164.14" stroke="#462d7a" stroke-width="1.41" stroke-opacity="0.63"/>
<path d="M69.51 166.22 L70.10 166.87" stroke="#433b82" stroke-width="1.43" stroke-opacity="0.73"/>
<path d="M70.00 166.77 L70.59 167.42" stroke="#375a8c" stroke-width="1.48" stroke-opacity="0.97"/>
<path d="M70.49 167.31 L71.08 167.97" stroke="#365c8c" stroke-width="1.48" stroke-opacity="0.98"/>
<path d="M70.99 167.86 L71.58 168.51" stroke="#3b518a" stroke-width="1.46" stroke-opacity="0.90"/>
<path d="M71.48 168.40 L72.07 169.06" stroke="#355e8d" stroke-width="1.48" stroke-opacity="1.00"/>
<path d="M71.97 168.95 L72.56 169.60" stroke="#365c8c" stroke-width="1.48" stroke-opacity="0.98"/>
<path d="M72.46 169.49 L73.06 170.14" stroke="#39578b" stroke-width="1.47" stroke-opacity="0.94"/>
<path d="M72.96 170.03 L73.55 170.69" stroke="#3b538a" stroke-width="1.46" stroke-opacity="0.91"/>
<path d="M73.45 170.58 L74.04 171.23" stroke="#33638d" stroke-width="1.49" stroke-opacity="1.00"/>
<path d="M73.94 171.12 L74.53 171.77" stroke="#365c8c" stroke-width="1.48" stroke-opacity="0.99"/>
<path d="M74.44 171.66 L75.03 172.31" stroke="#34628d" stroke-width="1.49" stroke-opacity="1.00"/>
<path d="M74.93 172.20 L75.52 172.85" stroke="#32668d" stroke-width="1.50" stroke-opacity="1.00"/>
<path d="M75.42 172.75 L76.01 173.40" stroke="#33648d" stroke-width="1.49" stroke-opacity="1.00"/>
<path d="M75.91 173.29 L76.51 173.94" stroke="#31698d" stroke-width="1.50" stroke-opacity="1.00"/>
<path d="M76.41 173.83 L77.00 174.48" stroke="#35608d" stroke-width="1.49" stroke-opacity="1.00"/>
<path d="M76.90 174.37 L77.49 175.02" stroke="#31698d" stroke-width="1.50" stroke-opacity="1.00"/>
<path d="M77.39 174.91 L77.98 175.56" stroke="#33638d" stroke-width="1.49" stroke-opacity="1.00"/>
<path d="M77.89 175.45 L78.48 176.09" stroke="#2e6e8e" stroke-width="1.51" stroke-opacity="1.00"/>
<path d="M78.38 175.99 L78.97 176.63" stroke="#2e6f8e" stroke-width="1.51" stroke-opacity="1.00"/>
<path d="M78.87 176.53 L79.46 177.17" stroke="#34608d" stroke-width="1.49" stroke-opacity="1.00"/>
<path d="M79.36 177.06 L79.96 177.71" stroke="#34628d" stroke-width="1.49" stroke-opacity="1.00"/>
<path d="M79.86 177.60 L80.45 178.25" stroke="#32658d" stroke-width="1.50" stroke-opacity="1.00"/>
<path d="M80.35 178.14 L80.94 178.78" stroke="#2b768e" stroke-width="1.53" stroke-opacity="1.00"/>
<path d="M80.84 178.68 L81.43 179.32" stroke="#2f6c8e" stroke-width="1.51" stroke-opacity="1.00"/>
<path d="M81.34 179.21 L81.93 179.85" stroke="#2d718e" stroke-width="1.52" stroke-opacity="1.00"/>
<path d="M81.83 179.75 L82.42 180.39" stroke="#2f6d8e" stroke-width="1.51" stroke-opacity="1.00"/>
<path d="M82.32 180.28 L82.91 180.93" stroke="#26828d" stroke-width="1.55" stroke-opacity="1.00"/>
<path d="M82.81 180.82 L83.41 181.46" stroke="#219889" stroke-width="1.59" stroke-opacity="1.00"/>
<path d="M83.31 181.35 L83.90 181.99" stroke="#21988a" stroke-width="1.59" stroke-opacity="1.00"/>
<path d="M83.80 181.89 L84.39 182.53" stroke="#25858d" stroke-width="1.55" stroke-opacity="1.00"/>
<path d="M84.29 182.42 L84.88 183.06" stroke="#2b768e" stroke-width="1.53" stroke-opacity="1.00"/>
<path d="M84.79 182.95 L85.38 183.59" stroke="#297a8e" stroke-width="1.53" stroke-opacity="1.00"/>
<path d="M85.28 183.49 L85.87 184.13" stroke="#2c748e" stroke-width="1.52" stroke-opacity="1.00"/>
<path d="M85.77 184.02 L86.36 184.66" stroke="#2a798e" stroke-width="1.53" stroke-opacity="1.00"/>
<path d="M86.27 184.55 L86.86 185.19" stroke="#2a778e" stroke-width="1.53" stroke-opacity="1.00"/>
<path d="M86.76 185.08 L87.35 185.72" stroke="#29798e" stroke-width="1.53" stroke-opacity="1.00"/>
<path d="M87.25 185.62 L87.84 186.25" stroke="#2d728e" stroke-width="1.52" stroke-opacity="1.00"/>
<path d="M87.74 186.15 L88.34 186.78" stroke="#32668d" stroke-width="1.50" stroke-opacity="1.00"/>
<path d="M88.24 186.68 L88.83 187.31" stroke="#2c748e" stroke-width="1.52" stroke-opacity="1.00"/>
<path d="M88.73 187.21 L89.32 187.84" stroke="#2b758e" stroke-width="1.53" stroke-opacity="1.00"/>
<path d="M89.22 187.74 L89.81 188.37" stroke="#2c738e" stroke-width="1.52" stroke-opacity="1.00"/>
<path d="M89.72 188.27 L90.31 188.90" stroke="#2f6c8e" stroke-width="1.51" stroke-opacity="1.00"/>
<path d="M90.21 188.80 L90.80 189.43" stroke="#2e6e8e" stroke-width="1.51" stroke-opacity="1.00"/>
<path d="M90.70 189.32 L91.29 189.96" stroke="#33638d" stroke-width="1.49" stroke-opacity="1.00"/>
<path d="M91.19 189.85 L91.79 190.49" stroke="#2e6f8e" stroke-width="1.51" stroke-opacity="1.00"/>
<path d="M91.69 190.38 L92.28 191.01" stroke="#30698d" stroke-width="1.50" stroke-opacity="1.00"/>
<path d="M92.18 190.91 L92.77 191.54" stroke="#33638d" stroke-width="1.49" stroke-opacity="1.00"/>
<path d="M92.67 191.43 L93.26 192.07" stroke="#355f8d" stroke-width="1.48" stroke-opacity="1.00"/>
<path d="M93.17 191.96 L93.76 192.59" stroke="#2e6f8e" stroke-width="1.51" stroke-opacity="1.00"/>
<path d="M93.66 192.49 L94.25 193.12" stroke="#2d718e" stroke-width="1.52" stroke-opacity="1.00"/>
<path d="M94.15 193.01 L94.74 193.64" stroke="#355f8d" stroke-width="1.49" stroke-opacity="1.00"/>
<path d="M94.64 193.54 L95.24 194.17" stroke="#2e6e8e" stroke-width="1.51" stroke-opacity="1.00"/>
<path d="M95.14 194.06 L95.73 194.69" stroke="#32668d" stroke-width="1.50" stroke-opacity="1.00"/>
<path d="M95.63 194.59 L96.22 195.21" stroke="#34618d" stroke-width="1.49" stroke-opacity="1.00"/>
<path d="M96.12 195.11 L96.71 195.74" stroke="#33648d" stroke-width="1.49" stroke-opacity="1.00"/>
<path d="M96.62 195.63 L97.21 196.26" stroke="#2f6e8e" stroke-width="1.51" stroke-opacity="1.00"/>
<path d="M97.11 196.16 L97.70 196.78" stroke="#2e708e" stroke-width="1.52" stroke-opacity="1.00"/>
<path d="M97.60 196.68 L98.19 197.31" stroke="#355f8d" stroke-width="1.48" stroke-opacity="1.00"/>
<path d="M98.09 197.20 L98.69 197.83" stroke="#306a8d" stroke-width="1.51" stroke-opacity="1.00"/>
<path d="M98.59 197.72 L99.18 198.35" stroke="#355e8d" stroke-width="1.48" stroke-opacity="1.00"/>
<path d="M99.08 198.24 L99.67 198.87" stroke="#306b8d" stroke-width="1.51" stroke-opacity="1.00"/>
<path d="M99.57 198.77 L100.16 199.39" stroke="#33638d" stroke-width="1.49" stroke-opacity="1.00"/>
<path d="M100.07 199.29 L100.66 199.91" stroke="#2f6d8e" stroke-width="1.51" stroke-opacity="1.00"/>
<path d="M100.56 199.81 L101.15 200.43" stroke="#2e6e8e" stroke-width="1.51" stroke-opacity="1.00"/>
<path d="M101.05 200.33 L101.64 200.95" stroke="#33648d" stroke-width="1.49" stroke-opacity="1.00"/>
<path d="M101.54 200.85 L102.14 201.47" stroke="#2f6c8e" stroke-width="1.51" stroke-opacity="1.00"/>
<path d="M102.04 201.37 L102.63 201.99" stroke="#355e8d" stroke-width="1.48" stroke-opacity="1.00"/>
<path d="M102.53 201.88 L103.12 202.51" stroke="#38598c" stroke-width="1.47" stroke-opacity="0.96"/>
<path d="M103.02 202.40 L103.62 203.02" stroke="#34628d" stroke-width="1.49" stroke-opacity="1.00"/>
<path d="M103.52 202.92 L104.11 203.54" stroke="#39568b" stroke-width="1.47" stroke-opacity="0.94"/>
<path d="M104.01 203.44 L104.60 204.06" stroke="#38588b" stroke-width="1.47" stroke-opacity="0.95"/>
<path d="M104.50 203.95 L105.09 204.57" stroke="#375b8c" stroke-width="1.48" stroke-opacity="0.98"/>
<path d="M105.00 204.47 L105.59 205.09" stroke="#355f8d" stroke-width="1.48" stroke-opacity="1.00"/>
<path d="M105.49 204.99 L106.08 205.61" stroke="#39568b" stroke-width="1.47" stroke-opacity="0.94"/>
<path d="M105.98 205.50 L106.57 206.12" stroke="#39568b" stroke-width="1.47" stroke-opacity="0.94"/>
<path d="M106.47 206.02 L107.07 206.64" stroke="#306b8d" stroke-width="1.51" stroke-opacity="1.00"/>
<path d="M106.97 206.53 L107.56 207.15" stroke="#31698d" stroke-width="1.50" stroke-opacity="1.00"/>
<path d="M107.46 207.05 L108.05 207.67" stroke="#277f8d" stroke-width="1.54" stroke-opacity="1.00"/>
<path d="M107.95 207.56 L108.54 208.18" stroke="#27808d" stroke-width="1.54" stroke-opacity="1.00"/>
<path d="M108.45 208.08 L109.04 208.69" stroke="#2e6f8e" stroke-width="1.51" stroke-opacity="1.00"/>
<path d="M108.94 208.59 L109.53 209.21" stroke="#31678d" stroke-width="1.50" stroke-opacity="1.00"/>
<path d="M109.43 209.10 L110.02 209.72" stroke="#35608d" stroke-width="1.49" stroke-opacity="1.00"/>
<path d="M109.92 209.62 L110.52 210.23" stroke="#365d8d" stroke-width="1.48" stroke-opacity="0.99"/>
<path d="M110.42 210.13 L111.01 210.74" stroke="#375a8c" stroke-width="1.48" stroke-opacity="0.97"/>
<path d="M110.91 210.64 L111.50 211.25" stroke="#38588c" stroke-width="1.47" stroke-opacity="0.96"/>
<path d="M111.40 211.15 L111.99 211.76" stroke="#38598c" stroke-width="1.48" stroke-opacity="0.96"/>
<path d="M164.64 264.16 L165.23 264.73" stroke="#482575" stroke-width="1.40" stroke-opacity="0.57"/>
<path d="M165.13 264.63 L165.72 265.20" stroke="#2b768e" stroke-width="1.53" stroke-opacity="1.00"/>
<path d="M165.62 265.10 L166.21 265.67" stroke="#22a685" stroke-width="1.62" stroke-opacity="1.00"/>
<path d="M166.11 265.57 L166.71 266.14" stroke="#5ec861" stroke-width="1.69" stroke-opacity="1.00"/>
<path d="M166.61 266.04 L167.20 266.61" stroke="#46c06f" stroke-width="1.67" stroke-opacity="1.00"/>
<path d="M167.10 266.51 L167.69 267.08" stroke="#56c566" stroke-width="1.68" stroke-opacity="1.00"/>
<path d="M167.59 266.98 L168.19 267.55" stroke="#b1dd2e" stroke-width="1.75" stroke-opacity="1.00"/>
<path d="M168.09 267.45 L168.68 268.01" stroke="#8ed544" stroke-width="1.72" stroke-opacity="1.00"/>
<path d="M168.58 267.92 L169.17 268.48" stroke="#b2dd2d" stroke-width="1.75" stroke-opacity="1.00"/>
<path d="M169.07 268.39 L169.66 268.95" stroke="#84d34b" stroke-width="1.72" stroke-opacity="1.00"/>
<path d="M169.57 268.86 L170.16 269.42" stroke="#d4e226" stroke-width="1.77" stroke-opacity="1.00"/>
<path d="M170.06 269.32 L170.65 269.89" stroke="#ece525" stroke-width="1.79" stroke-opacity="1.00"/>
<path d="M170.55 269.79 L171.14 270.35" stroke="#85d34a" stroke-width="1.72" stroke-opacity="1.00"/>
<path d="M171.04 270.26 L171.64 270.82" stroke="#bcdf27" stroke-width="1.75" stroke-opacity="1.00"/>
<path d="M171.54 270.73 L172.13 271.28" stroke="#9dd83b" stroke-width="1.73" stroke-opacity="1.00"/>
<path d="M172.03 271.19 L172.62 271.75" stroke="#46c06f" stroke-width="1.67" stroke-opacity="1.00"/>
<path d="M172.52 271.66 L173.11 272.22" stroke="#6dcd59" stroke-width="1.70" stroke-opacity="1.00"/>
<path d="M173.02 272.12 L173.61 272.68" stroke="#3ebb73" stroke-width="1.66" stroke-opacity="1.00"/>
<path d="M173.51 272.59 L174.10 273.15" stroke="#22a784" stroke-width="1.62" stroke-opacity="1.00"/>
<path d="M174.00 273.05 L174.59 273.61" stroke="#25858d" stroke-width="1.55" stroke-opacity="1.00"/>
<path d="M174.49 273.52 L175.09 274.07" stroke="#25868d" stroke-width="1.55" stroke-opacity="1.00"/>
<path d="M174.99 273.98 L175.58 274.54" stroke="#26848d" stroke-width="1.55" stroke-opacity="1.00"/>
<path d="M175.48 274.45 L176.07 275.00" stroke="#2d718e" stroke-width="1.52" stroke-opacity="1.00"/>
<path d="M175.97 274.91 L176.56 275.46" stroke="#2d718e" stroke-width="1.52" stroke-opacity="1.00"/>
<path d="M176.47 275.37 L177.06 275.93" stroke="#2b778e" stroke-width="1.53" stroke-opacity="1.00"/>
<path d="M176.96 275.83 L177.55 276.39" stroke="#423e84" stroke-width="1.43" stroke-opacity="0.75"/>
<path d="M181.39 279.98 L181.99 280.54" stroke="#472b79" stroke-width="1.40" stroke-opacity="0.62"/>
<path d="M181.89 280.44 L182.48 280.99" stroke="#30698d" stroke-width="1.50" stroke-opacity="1.00"/>
<path d="M182.38 280.90 L182.97 281.45" stroke="#238c8c" stroke-width="1.57" stroke-opacity="1.00"/>
<path d="M182.87 281.36 L183.46 281.91" stroke="#219989" stroke-width="1.59" stroke-opacity="1.00"/>
<path d="M183.37 281.82 L183.96 282.37" stroke="#22a884" stroke-width="1.62" stroke-opacity="1.00"/>
<path d="M183.86 282.28 L184.45 282.83" stroke="#2caf7e" stroke-width="1.63" stroke-opacity="1.00"/>
<path d="M184.35 282.74 L184.94 283.28" stroke="#35b579" stroke-width="1.65" stroke-opacity="1.00"/>
<path d="M184.85 283.19 L185.44 283.74" stroke="#40bc72" stroke-width="1.66" stroke-opacity="1.00"/>
<path d="M185.34 283.65 L185.93 284.20" stroke="#29ad80" stroke-width="1.63" stroke-opacity="1.00"/>
<path d="M185.83 284.11 L186.42 284.65" stroke="#26ab81" stroke-width="1.63" stroke-opacity="1.00"/>
<path d="M186.32 284.56 L186.92 285.11" stroke="#38b777" stroke-width="1.65" stroke-opacity="1.00"/>
<path d="M186.82 285.02 L187.41 285.57" stroke="#229f87" stroke-width="1.60" stroke-opacity="1.00"/>
<path d="M187.31 285.48 L187.90 286.02" stroke="#39b877" stroke-width="1.65" stroke-opacity="1.00"/>
<path d="M187.80 285.93 L188.39 286.48" stroke="#57c565" stroke-width="1.68" stroke-opacity="1.00"/>
<path d="M188.30 286.39 L188.89 286.93" stroke="#4ac16c" stroke-width="1.67" stroke-opacity="1.00"/>
<path d="M188.79 286.84 L189.38 287.39" stroke="#5ec861" stroke-width="1.69" stroke-opacity="1.00"/>
<path d="M189.28 287.29 L189.87 287.84" stroke="#c4e026" stroke-width="1.76" stroke-opacity="1.00"/>
<path d="M189.77 287.75 L190.37 288.29" stroke="#88d448" stroke-width="1.72" stroke-opacity="1.00"/>
<path d="M190.27 288.20 L190.86 288.75" stroke="#81d24d" stroke-width="1.71" stroke-opacity="1.00"/>
<path d="M190.76 288.66 L191.35 289.20" stroke="#91d642" stroke-width="1.73" stroke-opacity="1.00"/>
<path d="M191.25 289.11 L191.84 289.65" stroke="#93d641" stroke-width="1.73" stroke-opacity="1.00"/>
<path d="M191.75 289.56 L192.34 290.10" stroke="#39b876" stroke-width="1.65" stroke-opacity="1.00"/>
<path d="M192.24 290.01 L192.83 290.56" stroke="#32b37b" stroke-width="1.64" stroke-opacity="1.00"/>
<path d="M192.73 290.47 L193.32 291.01" stroke="#22a286" stroke-width="1.61" stroke-opacity="1.00"/>
<path d="M193.22 290.92 L193.82 291.46" stroke="#219989" stroke-width="1.59" stroke-opacity="1.00"/>
<path d="M193.72 291.37 L194.31 291.91" stroke="#2b758e" stroke-width="1.52" stroke-opacity="1.00"/>
<path d="M194.21 291.82 L194.80 292.36" stroke="#2e6f8e" stroke-width="1.51" stroke-opacity="1.00"/>
<path d="M194.70 292.27 L195.29 292.81" stroke="#375c8c" stroke-width="1.48" stroke-opacity="0.98"/>
<path d="M195.20 292.72 L195.79 293.26" stroke="#365d8d" stroke-width="1.48" stroke-opacity="0.99"/>
<path d="M195.69 293.17 L196.28 293.71" stroke="#34628d" stroke-width="1.49" stroke-opacity="1.00"/>
<path d="M196.18 293.62 L196.77 294.16" stroke="#32658d" stroke-width="1.50" stroke-opacity="1.00"/>
<path d="M196.67 294.07 L197.27 294.61" stroke="#39568b" stroke-width="1.47" stroke-opacity="0.94"/>
<path d="M197.17 294.52 L197.76 295.06" stroke="#472777" stroke-width="1.40" stroke-opacity="0.59"/>
<path d="M200.62 297.66 L201.21 298.19" stroke="#45347e" stroke-width="1.42" stroke-opacity="0.68"/>
<path d="M201.11 298.10 L201.70 298.64" stroke="#2b758e" stroke-width="1.52" stroke-opacity="1.00"/>
<path d="M201.60 298.55 L202.20 299.08" stroke="#297c8e" stroke-width="1.54" stroke-opacity="1.00"/>
<path d="M202.10 298.99 L202.69 299.53" stroke="#22a286" stroke-width="1.61" stroke-opacity="1.00"/>
<path d="M202.59 299.44 L203.18 299.97" stroke="#44bf70" stroke-width="1.67" stroke-opacity="1.00"/>
<path d="M203.08 299.89 L203.67 300.42" stroke="#3cba75" stroke-width="1.65" stroke-opacity="1.00"/>
<path d="M203.58 300.33 L204.17 300.86" stroke="#6fcd57" stroke-width="1.70" stroke-opacity="1.00"/>
<path d="M204.07 300.78 L204.66 301.31" stroke="#f3e625" stroke-width="1.79" stroke-opacity="1.00"/>
<path d="M204.56 301.22 L205.15 301.75" stroke="#fde725" stroke-width="1.80" stroke-opacity="1.00"/>
<path d="M205.05 301.66 L205.65 302.20" stroke="#fde725" stroke-width="1.80" stroke-opacity="1.00"/>
<path d="M205.55 302.11 L206.14 302.64" stroke="#8ad447" stroke-width="1.72" stroke-opacity="1.00"/>
<path d="M206.04 302.55 L206.63 303.08" stroke="#42bd71" stroke-width="1.66" stroke-opacity="1.00"/>
<path d="M206.53 302.99 L207.12 303.53" stroke="#31b27b" stroke-width="1.64" stroke-opacity="1.00"/>
<path d="M207.03 303.44 L207.62 303.97" stroke="#27ab81" stroke-width="1.63" stroke-opacity="1.00"/>
<path d="M207.52 303.88 L208.11 304.41" stroke="#26838d" stroke-width="1.55" stroke-opacity="1.00"/>
<path d="M208.01 304.32 L208.60 304.85" stroke="#297a8e" stroke-width="1.53" stroke-opacity="1.00"/>
<path d="M208.50 304.76 L209.10 305.29" stroke="#32668d" stroke-width="1.50" stroke-opacity="1.00"/>
<path d="M209.00 305.20 L209.59 305.73" stroke="#471f70" stroke-width="1.39" stroke-opacity="0.54"/>
<path d="M213.43 309.16 L214.02 309.69" stroke="#462f7b" stroke-width="1.41" stroke-opacity="0.64"/>
<path d="M213.93 309.60 L214.52 310.13" stroke="#2e708e" stroke-width="1.51" stroke-opacity="1.00"/>
<path d="M214.42 310.04 L215.01 310.57" stroke="#32668d" stroke-width="1.50" stroke-opacity="1.00"/>
<path d="M214.91 310.48 L215.50 311.00" stroke="#33638d" stroke-width="1.49" stroke-opacity="1.00"/>
<path d="M215.40 310.91 L216.00 311.44" stroke="#2a788e" stroke-width="1.53" stroke-opacity="1.00"/>
<path d="M215.90 311.35 L216.49 311.88" stroke="#2b768e" stroke-width="1.53" stroke-opacity="1.00"/>
<path d="M216.39 311.79 L216.98 312.31" stroke="#2d718e" stroke-width="1.52" stroke-opacity="1.00"/>
<path d="M216.88 312.23 L217.48 312.75" stroke="#462f7b" stroke-width="1.41" stroke-opacity="0.64"/>
</g>
<path d="M111.2 213.4 H163.7 V262.8 H111.2 Z" fill="none" stroke="#fff" stroke-opacity="0.8" stroke-width="1.2" stroke-dasharray="5.12 2.21"/>
<g stroke="#8a7a90" stroke-width="0.7">
<path d="M76.9 146.9 v5 M76.9 329.3 v-5.2"/>
<path d="M42.9 295.6 h5 M225.9 295.6 h-4.8"/>
<path d="M142.6 146.9 v5 M142.6 329.3 v-5.2"/>
<path d="M42.9 230.0 h5 M225.9 230.0 h-4.8"/>
<path d="M208.3 146.9 v5 M208.3 329.3 v-5.2"/>
<path d="M42.9 164.4 h5 M225.9 164.4 h-4.8"/>
</g>
<path d="M226.6 146.9 V329.4 H42.9" fill="none" stroke="#8c8c8c" stroke-width="1.0"/>
<path d="M42.7 329.9 V146.4" fill="none" stroke="#141414" stroke-width="1.15"/>
<path d="M42.1 146.75 H227.1" fill="none" stroke="#1c1c1c" stroke-width="0.85"/>
<text x="76.9" y="340.3" font-size="10.15" text-anchor="middle" fill="#000" stroke="#000" stroke-width="0.22" >1550</text>
<text x="38.0" y="299.0" font-size="10.15" text-anchor="end" fill="#000" stroke="#000" stroke-width="0.22" >1550</text>
<text x="142.6" y="340.3" font-size="10.15" text-anchor="middle" fill="#000" stroke="#000" stroke-width="0.22" >1590</text>
<text x="38.0" y="233.4" font-size="10.15" text-anchor="end" fill="#000" stroke="#000" stroke-width="0.22" >1590</text>
<text x="208.3" y="340.3" font-size="10.15" text-anchor="middle" fill="#000" stroke="#000" stroke-width="0.22" >1630</text>
<text x="38.0" y="167.8" font-size="10.15" text-anchor="end" fill="#000" stroke="#000" stroke-width="0.22" >1630</text>
<text x="134.0" y="355.4" font-size="10.15" text-anchor="middle" fill="#000" stroke="#000" stroke-width="0.22" >Signal wavelength (nm)</text>
<text transform="translate(8.2,238.4) rotate(-90)" font-size="10.15" text-anchor="middle" fill="#000" stroke="#000" stroke-width="0.22">Idler wavelength (nm)</text>
<text x="55.8" y="176" font-size="10.15" text-anchor="start" fill="#fff" stroke="#fff" stroke-width="0.22" >c)</text>
<rect x="233.4" y="147.8" width="12.400000000000006" height="181.09999999999997" fill="url(#vir)" stroke="#333" stroke-width="0.7"/>
<g stroke="#333" stroke-width="0.7">
<path d="M245.8 328.9 h3.8"/>
<path d="M244.60000000000002 319.8 h3"/>
<path d="M244.60000000000002 310.8 h3"/>
<path d="M244.60000000000002 301.7 h3"/>
<path d="M245.8 292.7 h3.8"/>
<path d="M244.60000000000002 283.6 h3"/>
<path d="M244.60000000000002 274.6 h3"/>
<path d="M244.60000000000002 265.5 h3"/>
<path d="M245.8 256.5 h3.8"/>
<path d="M244.60000000000002 247.4 h3"/>
<path d="M244.60000000000002 238.3 h3"/>
<path d="M244.60000000000002 229.3 h3"/>
<path d="M245.8 220.2 h3.8"/>
<path d="M244.60000000000002 211.2 h3"/>
<path d="M244.60000000000002 202.1 h3"/>
<path d="M244.60000000000002 193.1 h3"/>
<path d="M245.8 184.0 h3.8"/>
<path d="M244.60000000000002 175.0 h3"/>
<path d="M244.60000000000002 165.9 h3"/>
<path d="M244.60000000000002 156.9 h3"/>
<path d="M245.8 147.8 h3.8"/>
</g>
<text x="251.4" y="333.0" font-size="10.15" text-anchor="start" fill="#000" stroke="#000" stroke-width="0.22" >0.0</text>
<text x="251.4" y="296.8" font-size="10.15" text-anchor="start" fill="#000" stroke="#000" stroke-width="0.22" >0.2</text>
<text x="251.4" y="260.6" font-size="10.15" text-anchor="start" fill="#000" stroke="#000" stroke-width="0.22" >0.4</text>
<text x="251.4" y="224.3" font-size="10.15" text-anchor="start" fill="#000" stroke="#000" stroke-width="0.22" >0.6</text>
<text x="251.4" y="188.1" font-size="10.15" text-anchor="start" fill="#000" stroke="#000" stroke-width="0.22" >0.8</text>
<text x="251.4" y="151.9" font-size="10.15" text-anchor="start" fill="#000" stroke="#000" stroke-width="0.22" >1.0</text>
<text x="217.8" y="139" font-size="10.15" text-anchor="start" fill="#000" stroke="#000" stroke-width="0.22" >Intensity (a.u.)</text>
<g stroke="#888" stroke-width="0.7">
<path d="M404.6 146.6 v4.8 M404.6 329.5 v-4.8"/>
<path d="M465.8 146.6 v4.8 M465.8 329.5 v-4.8"/>
<path d="M343.5 310.8 h4.8 M527.2 310.8 h-4.8"/>
<path d="M343.5 274.2 h4.8 M527.2 274.2 h-4.8"/>
<path d="M343.5 237.6 h4.8 M527.2 237.6 h-4.8"/>
<path d="M343.5 201.0 h4.8 M527.2 201.0 h-4.8"/>
<path d="M343.5 164.4 h4.8 M527.2 164.4 h-4.8"/>
</g>
<path d="M343.5 312.8 L527.2 156.5" stroke="#ff2a2a" stroke-width="1.1" fill="none"/>
<g stroke="#000" stroke-width="0.9" fill="#000">
<path d="M376.4 257.2 V304.2 M374.09999999999997 257.2 h4.6 M374.09999999999997 304.2 h4.6"/>
<circle cx="376.4" cy="280.7" r="1.75" stroke="none"/>
<path d="M389.3 246.2 V293.2 M387.0 246.2 h4.6 M387.0 293.2 h4.6"/>
<circle cx="389.3" cy="269.7" r="1.75" stroke="none"/>
<path d="M402.6 249.39999999999998 V296.4 M400.3 249.39999999999998 h4.6 M400.3 296.4 h4.6"/>
<circle cx="402.6" cy="272.9" r="1.75" stroke="none"/>
<path d="M415.9 227.8 V274.8 M413.59999999999997 227.8 h4.6 M413.59999999999997 274.8 h4.6"/>
<circle cx="415.9" cy="251.3" r="1.75" stroke="none"/>
<path d="M428.8 207.9 V254.9 M426.5 207.9 h4.6 M426.5 254.9 h4.6"/>
<circle cx="428.8" cy="231.4" r="1.75" stroke="none"/>
<path d="M442.1 208.7 V255.7 M439.8 208.7 h4.6 M439.8 255.7 h4.6"/>
<circle cx="442.1" cy="232.2" r="1.75" stroke="none"/>
<path d="M455.0 200.1 V247.1 M452.7 200.1 h4.6 M452.7 247.1 h4.6"/>
<circle cx="455.0" cy="223.6" r="1.75" stroke="none"/>
<path d="M468.3 184.8 V231.8 M466.0 184.8 h4.6 M466.0 231.8 h4.6"/>
<circle cx="468.3" cy="208.3" r="1.75" stroke="none"/>
<path d="M481.2 164.1 V211.1 M478.9 164.1 h4.6 M478.9 211.1 h4.6"/>
<circle cx="481.2" cy="187.6" r="1.75" stroke="none"/>
</g>
<path d="M527.2 146.6 V329.5 H343.5" fill="none" stroke="#808080" stroke-width="1.1"/>
<path d="M527.2 146.1 V289.5" fill="none" stroke="#555" stroke-width="1.1"/>
<path d="M343.5 330.0 V146.6 H527.7" fill="none" stroke="#2e2e2e" stroke-width="1.1"/>
<text x="339.4" y="314.2" font-size="10.15" text-anchor="end" fill="#000" stroke="#000" stroke-width="0.22" >496</text>
<text x="339.4" y="277.6" font-size="10.15" text-anchor="end" fill="#000" stroke="#000" stroke-width="0.22" >498</text>
<text x="339.4" y="241.0" font-size="10.15" text-anchor="end" fill="#000" stroke="#000" stroke-width="0.22" >500</text>
<text x="339.4" y="204.4" font-size="10.15" text-anchor="end" fill="#000" stroke="#000" stroke-width="0.22" >502</text>
<text x="339.4" y="167.8" font-size="10.15" text-anchor="end" fill="#000" stroke="#000" stroke-width="0.22" >504</text>
<text x="343.5" y="340.8" font-size="10.15" text-anchor="middle" fill="#000" stroke="#000" stroke-width="0.22" >0</text>
<text x="404.6" y="340.8" font-size="10.15" text-anchor="middle" fill="#000" stroke="#000" stroke-width="0.22" >0.5</text>
<text x="465.8" y="340.8" font-size="10.15" text-anchor="middle" fill="#000" stroke="#000" stroke-width="0.22" >1</text>
<text x="527.0" y="340.8" font-size="10.15" text-anchor="middle" fill="#000" stroke="#000" stroke-width="0.22" >1.5</text>
<text x="434.8" y="355.0" font-size="10.15" text-anchor="middle" fill="#000" stroke="#000" stroke-width="0.22" >Seed Power (mW)</text>
<text transform="translate(312.2,239) rotate(-90)" font-size="10.15" text-anchor="middle" fill="#000" stroke="#000" stroke-width="0.22">Count Rate (Hz)</text>
<text x="356.8" y="165.3" font-size="10.6" text-anchor="start" fill="#000" stroke="#000" stroke-width="0.22" >d)</text>
<text x="405.2" y="311.2" font-size="10.15" text-anchor="start" fill="#000" stroke="#000" stroke-width="0.22" >b = (5.70 ± 1.55) Hz/mW</text>
</g>
</svg>
</body></html>
